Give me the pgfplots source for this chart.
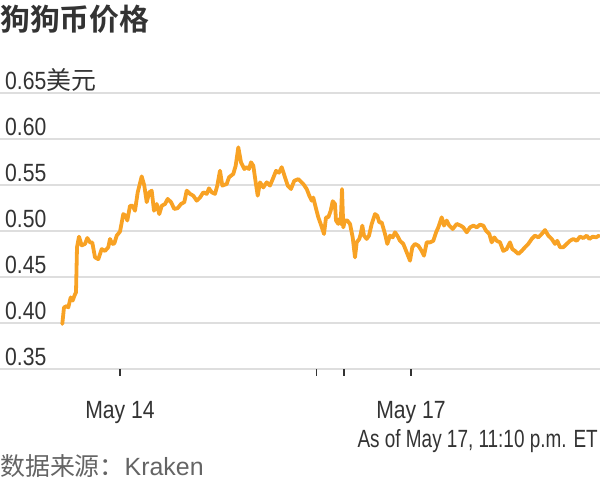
\documentclass[border=0pt]{standalone}
\usepackage{pgfplots}
\pgfplotsset{compat=1.18}
\usepackage{fontspec}
\setmainfont{Liberation Sans}[FakeStretch=0.85]
\newfontfamily\regfont{Liberation Sans}
\newfontfamily\condfont{Liberation Sans}[FakeStretch=0.76]
\newfontfamily\cjk{Noto Sans CJK SC}
\newfontfamily\cjkb{Noto Sans CJK SC Bold}
\definecolor{doge}{RGB}{248,162,36}
\definecolor{txt}{RGB}{51,51,51}
\definecolor{grid}{RGB}{222,222,222}
\definecolor{src}{RGB}{100,100,100}
\begin{document}
\begin{tikzpicture}[x=1bp,y=1bp]
\useasboundingbox (0,0) rectangle (600,480);
\begin{axis}[
  at={(0,121)}, anchor=south west,
  scale only axis, width=600bp, height=276bp,
  xmin=0, xmax=600, ymin=0.35, ymax=0.65,
  axis line style={draw=none},
  ytick={0.35,0.40,0.45,0.50,0.55,0.60,0.65},
  yticklabels={0.35,0.40,0.45,0.50,0.55,0.60,{0.65{\cjk 美元}}},
  ymajorgrids, grid style={color=grid, line width=1.8bp},
  ytick style={draw=none},
  yticklabel style={anchor=base west, inner sep=0pt, xshift=12bp, yshift=3bp, font=\fontsize{25}{25}\selectfont, color=txt},
  xtick={120,316.5,344,411},
  xticklabels={May 14,,,May 17},
  xtick pos=bottom, tick align=outside,
  major tick length=7bp,
  xtick style={color=txt, line width=1.5bp},
  xticklabel style={anchor=base, inner sep=0pt, yshift=-43bp, font=\fontsize{25}{25}\selectfont, color=txt},
  clip=false,
]
\addplot[doge, line width=3.8bp, line join=round, line cap=round] table {
x y
62.3 0.3986
64 0.4166
66.7 0.418
68.3 0.4166
70.7 0.4275
72.7 0.424
74.3 0.429
76 0.433
77 0.482
79 0.4935
81.7 0.484
85 0.4856
87.3 0.492
90 0.4873
92.3 0.487
95 0.471
98.3 0.469
101.7 0.480
105 0.478
108.3 0.482
110 0.491
112.3 0.4856
114.3 0.486
116.7 0.4946
120 0.499
123.3 0.518
125.7 0.5163
127.3 0.511
130 0.527
132.7 0.527
135 0.5217
137.7 0.5417
141.7 0.559
144.3 0.549
146.7 0.531
149.3 0.5417
151.7 0.5435
154 0.5217
156.7 0.529
159.3 0.518
161.7 0.527
165 0.529
167.7 0.5345
171 0.531
174.3 0.5236
177.7 0.5245
181 0.529
184.3 0.531
186.7 0.5435
190 0.540
193.3 0.538
196.7 0.5326
200 0.536
203.3 0.5417
206.7 0.540
209 0.546
211.7 0.5417
215 0.540
217.3 0.549
220 0.5652
222.3 0.549
226.7 0.5507
229 0.558
233.3 0.5617
235.7 0.5707
238.3 0.5906
241 0.5743
244.3 0.567
246.7 0.569
249 0.567
251 0.5743
253.3 0.5707
255.7 0.5525
257.7 0.538
260 0.5525
263.3 0.547
266.7 0.5525
270 0.549
272.7 0.556
276 0.565
279 0.563
281.7 0.569
285 0.558
287.7 0.549
291 0.5453
294.3 0.5543
298.3 0.556
300 0.5543
303.3 0.5507
306.7 0.5453
309.3 0.538
311.7 0.5326
313.3 0.536
315.7 0.5253
318.3 0.5145
320.7 0.5073
324 0.4964
326 0.5145
328.3 0.5145
330.7 0.5217
332.7 0.532
335 0.529
336 0.511
338.3 0.5073
339.3 0.5127
340.7 0.5073
342 0.5453
343.3 0.5036
345 0.511
347.3 0.511
350 0.5073
352.7 0.4927
355 0.471
356.7 0.4873
359.3 0.491
360.7 0.4964
362.3 0.5055
364 0.4946
366.7 0.491
369 0.4946
371.7 0.5073
375 0.518
377.3 0.5163
379.3 0.509
381.7 0.509
385 0.4964
387.3 0.4856
390 0.4946
392.7 0.4927
395 0.4982
397.3 0.4946
400 0.489
403.3 0.4856
406.7 0.4765
410 0.4674
412.3 0.482
415 0.4856
418.3 0.4837
421.7 0.478
424 0.4728
426.7 0.4873
430 0.4873
433.3 0.489
436 0.498
438.3 0.5036
441.7 0.5145
444 0.5055
446.7 0.511
449.3 0.5055
452.7 0.5018
456.7 0.5073
460.7 0.5055
463.3 0.5036
466.7 0.4982
470 0.5036
473.3 0.5055
476.7 0.5036
480 0.5065
483.3 0.5055
486 0.500
489.3 0.4964
491.7 0.4873
494.3 0.4927
496.7 0.489
500 0.4873
503.3 0.478
506.7 0.480
510 0.4873
512.3 0.480
515 0.478
518.3 0.4746
521.7 0.478
525 0.482
528.3 0.4856
531.7 0.491
535 0.4946
538.3 0.4927
541.7 0.4964
545 0.5007
548.3 0.4946
551.7 0.491
555 0.4856
557.3 0.489
560 0.482
563.3 0.482
566.7 0.4856
570 0.489
573.3 0.491
576.7 0.489
580 0.4935
583.3 0.492
586.7 0.4946
589.3 0.491
592.7 0.4935
596 0.4927
599 0.4946
};
\end{axis}
\node[anchor=base west, inner sep=0pt, color=txt] at (0,449) {\fontsize{30}{30}\cjkb 狗狗币价格};
\node[anchor=base east, inner sep=0pt, color=txt] at (598,32.3) {\fontsize{25}{25}\condfont As of May 17, 11:10 p.m. ET};
\node[anchor=base west, inner sep=0pt, color=src] at (0,4) {\fontsize{25}{25}\selectfont{\cjk 数据来源：}{\regfont Kraken}};
\end{tikzpicture}
\end{document}
